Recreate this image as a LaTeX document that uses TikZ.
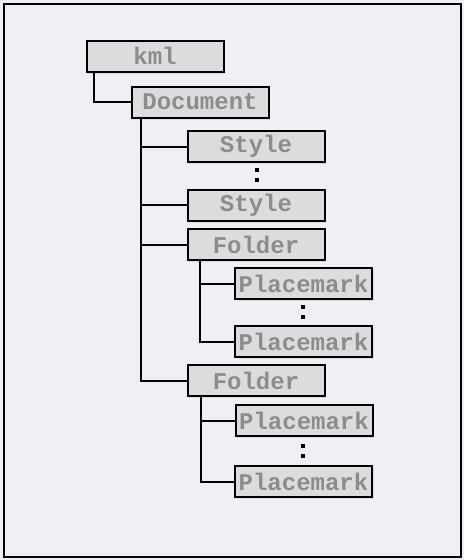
\documentclass[tikz,border=0pt]{standalone}
\usepackage{fontspec}
\setmonofont{Liberation Mono}
\usetikzlibrary{shadows}
\definecolor{bgc}{HTML}{EFF0F4}
\definecolor{boxc}{HTML}{DCDCDE}
\definecolor{txtc}{HTML}{8C8C8C}
\tikzset{
  elem/.style={draw=black, line width=2pt, fill=boxc, minimum width=137pt, minimum height=31pt,
    inner sep=0pt, text=txtc, font=\ttfamily\bfseries\fontsize{24}{24}\selectfont,
    drop shadow={opacity=0.18, shadow xshift=1.5pt, shadow yshift=-2pt}},
  conn/.style={line width=2pt, draw=black},
  dotsq/.style={fill=black, minimum width=4.5pt, minimum height=4pt, inner sep=0pt, draw=none}
}
\begin{document}
\begin{tikzpicture}[x=1pt,y=-1pt]
\useasboundingbox (0,0) rectangle (464,560);
\fill[bgc] (0,0) rectangle (464,560);
\draw[line width=2.2pt, draw=black] (4,4) rectangle (461,557);
\node[elem] (kml) at (155,56) {kml};
\node[elem] (doc) at (200,102) {Document};
\node[elem] (st1) at (256,146.5) {Style};
\node[elem] (st2) at (256,205) {Style};
\node[elem] (f1) at (256,244.5) {Folder};
\node[elem] (p1) at (303.5,283.5) {Placemark};
\node[elem] (p2) at (303.5,341.5) {Placemark};
\node[elem] (f2) at (256,380.5) {Folder};
\node[elem] (p3) at (304,420.5) {Placemark};
\node[elem] (p4) at (303.5,481.5) {Placemark};
\node[dotsq] (d1a) at (257,170) {};
\node[dotsq] (d1b) at (257,180) {};
\node[dotsq] (d2a) at (303,307) {};
\node[dotsq] (d2b) at (303,317) {};
\node[dotsq] (d3a) at (303,446) {};
\node[dotsq] (d3b) at (303,456) {};
\draw[conn] ([xshift=8pt]kml.south west) |- (doc.west);
\draw[conn] ([xshift=10pt]doc.south west) |- (f2.west);
\draw[conn] ([xshift=10pt]doc.south west) |- (st1.west);
\draw[conn] ([xshift=10pt]doc.south west) |- (st2.west);
\draw[conn] ([xshift=10pt]doc.south west) |- (f1.west);
\draw[conn] ([xshift=13pt]f1.south west) |- (p1.west);
\draw[conn] ([xshift=13pt]f1.south west) |- (p2.west);
\draw[conn] ([xshift=14pt]f2.south west) |- (p3.west);
\draw[conn] ([xshift=14pt]f2.south west) |- (p4.west);
\end{tikzpicture}
\end{document}
